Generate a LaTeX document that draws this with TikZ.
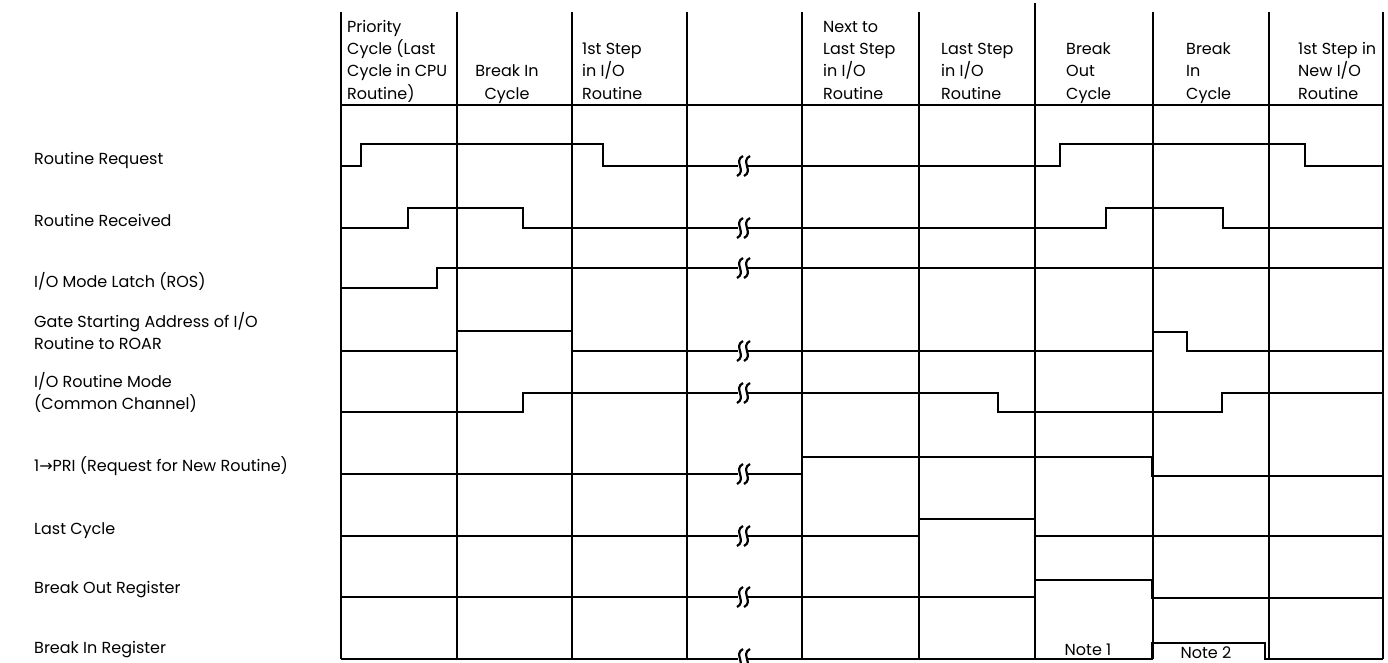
\documentclass[tikz,border=0pt]{standalone}
\usepackage{fontspec}
\setmainfont{Poppins}
\newfontfamily\arrowfont{DejaVu Sans}

\begin{document}
\begin{tikzpicture}[x=1pt,y=-1pt,
    grid/.style={line width=1.4pt},
    sig/.style={line width=2.3pt},
    brk/.style={line width=2.2pt},
    lbl/.style={anchor=base west, inner sep=0pt, align=left, font=\fontsize{16}{21.5}\selectfont},
    hdr/.style={anchor=base west, inner sep=0pt, align=left, font=\fontsize{16}{22.3}\selectfont}]
\useasboundingbox (0,0) rectangle (1388,662);

% grid
\foreach \x in {341,457,572,687,802,919,1153,1269,1383}
    \draw[grid] (\x,12) -- (\x,659);
\draw[grid] (1035,3) -- (1035,659);
\draw[grid] (341,105) -- (1383,105);

% column heads (base = last line)
\node[hdr] (hPri) at (347,99) {Priority\\Cycle (Last\\Cycle in CPU\\Routine)};
\node[hdr, anchor=base, align=center] (hBrkIn) at (507,99) {Break In\\Cycle};
\node[hdr] (hFirst) at (582,99) {1st Step\\in I/O\\Routine};
\node[hdr] (hNext) at (823,99) {Next to\\Last Step\\in I/O\\Routine};
\node[hdr] (hLast) at (941,99) {Last Step\\in I/O\\Routine};
\node[hdr] (hBrkOut) at (1066,99) {Break\\Out\\Cycle};
\node[hdr] (hBrkIn2) at (1186,99) {Break\\In\\Cycle};
\node[hdr] (hNew) at (1298,99) {1st Step in\\New I/O\\Routine};

% signal names
\node[lbl] (lReq) at (34,164) {Routine Request};
\node[lbl] (lRcv) at (34,226) {Routine Received};
\node[lbl] (lLatch) at (34,287) {I/O Mode Latch (ROS)};
\node[lbl] (lGate) at (34,349) {Gate Starting Address of I/O\\Routine to ROAR};
\node[lbl] (lMode) at (34,409) {I/O Routine Mode\\(Common Channel)};
\node[lbl] (lPri) at (34,471) {1{\arrowfont →}PRI (Request for New Routine)};
\node[lbl] (lLast) at (34,534) {Last Cycle};
\node[lbl] (lBrkOut) at (34,593) {Break Out Register};
\node[lbl] (lBrkIn) at (34,653) {Break In Register};

% waveforms
\draw[sig] (341,166) -- (361,166) -- (361,144) -- (603,144) -- (603,166) -- (738,166);
\draw[sig] (748,166) -- (1060,166) -- (1060,144) -- (1305,144) -- (1305,166) -- (1383,166);

\draw[sig] (341,228) -- (408,228) -- (408,208) -- (523,208) -- (523,228) -- (738,228);
\draw[sig] (748,228) -- (1106,228) -- (1106,208) -- (1223,208) -- (1223,228) -- (1383,228);

\draw[sig] (341,288) -- (437,288) -- (437,268) -- (738,268);
\draw[sig] (748,268) -- (1383,268);

\draw[sig] (341,351) -- (457,351) -- (457,331) -- (572,331) -- (572,351) -- (738,351);
\draw[sig] (748,351) -- (1153,351) -- (1153,332) -- (1187,332) -- (1187,351) -- (1383,351);

\draw[sig] (341,412) -- (523,412) -- (523,393) -- (738,393);
\draw[sig] (748,393) -- (998,393) -- (998,412) -- (1222,412) -- (1222,393) -- (1383,393);

\draw[sig] (341,474) -- (738,474);
\draw[sig] (748,474) -- (802,474) -- (802,457) -- (1152,457) -- (1152,476) -- (1383,476);

\draw[sig] (341,536) -- (738,536);
\draw[sig] (748,536) -- (919,536) -- (919,519) -- (1035,519) -- (1035,536) -- (1383,536);

\draw[sig] (341,597) -- (738,597);
\draw[sig] (748,597) -- (1035,597) -- (1035,580) -- (1152,580) -- (1152,598) -- (1383,598);

\draw[sig] (341,659) -- (738,659);
\draw[sig] (748,659) -- (1152,659) -- (1152,643) -- (1265,643) -- (1265,659) -- (1383,659);

% break marks
\foreach \yy in {166,228,268,351,393,474,536,597,659}
  \foreach \x in {740,747}
    \draw[brk] (\x+3,\yy-10) .. controls (\x-7,\yy-5) and (\x+7,\yy+5) .. (\x-3,\yy+10);

% notes
\node[hdr, anchor=base] (nOne) at (1088,655) {Note 1};
\node[hdr, anchor=base] (nTwo) at (1206,658) {Note 2};
\end{tikzpicture}
\end{document}
